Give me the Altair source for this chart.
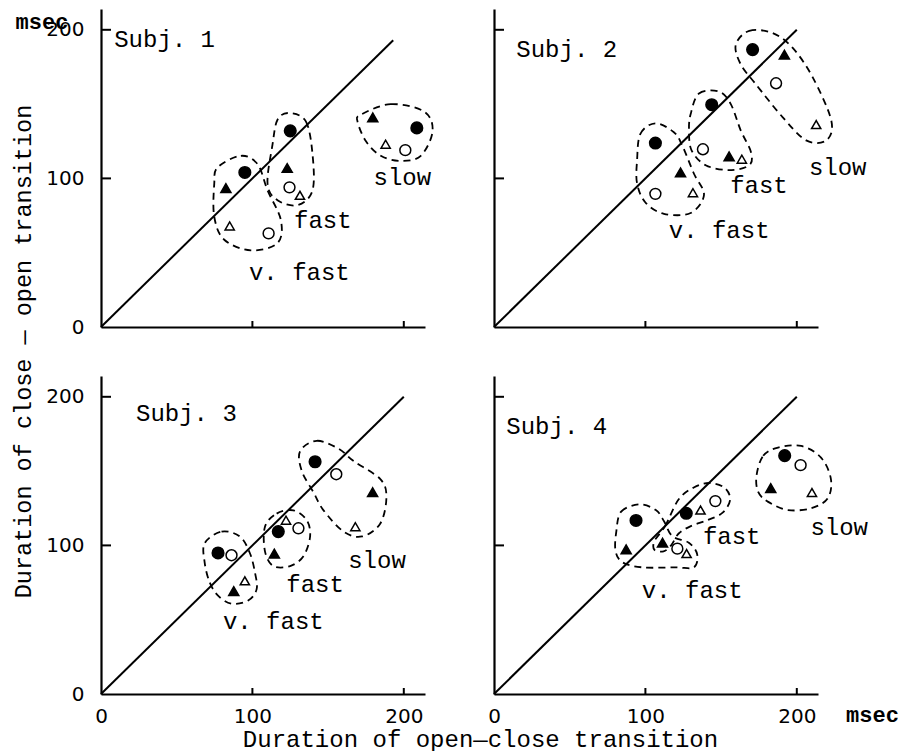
import altair as alt
import pandas as pd

# ---------------- data ----------------
SPEEDS = ["v. fast", "fast", "slow"]
MARKER_TYPES = ["fc", "oc", "ft", "ot"]          # filled circle, open circle, filled triangle, open triangle
MARKER_SHAPES = ["circle", "circle", "triangle-up", "triangle-up"]
MARKER_FILLS = ["black", "white", "black", "white"]
MARKER_SIZES = [135, 85, 60, 60]

AXIS_TICKS = [0, 100, 200]
INNER_TICKS = [100, 200]
DIAG_END = [193, 200, 200, 200]   # end of the y = x line, per subject

# points (subject, speed group, marker, x, y)
pt_subject = [1] * 12 + [2] * 12 + [3] * 12 + [4] * 12
pt_speed = (["v. fast"] * 4 + ["fast"] * 4 + ["slow"] * 4) * 4
pt_marker = [
    "fc", "ft", "ot", "oc", "fc", "ft", "oc", "ot", "ft", "fc", "ot", "oc",
    "fc", "ft", "oc", "ot", "fc", "oc", "ft", "ot", "fc", "ft", "oc", "ot",
    "fc", "oc", "ot", "ft", "fc", "ot", "oc", "ft", "fc", "oc", "ft", "ot",
    "fc", "ft", "oc", "ot", "fc", "ot", "oc", "ft", "fc", "oc", "ft", "ot",
]
pt_x = [
    95, 82.5, 85, 110.7, 125, 123, 124.5, 131.4, 179.5, 208.6, 188, 201,
    106.6, 123.2, 106.6, 131.4, 143.8, 138, 155.3, 163.7, 170.8, 191.8, 186.3, 212.8,
    77.3, 86.2, 95, 87.7, 117.1, 122.2, 130.4, 114.5, 141.4, 155.4, 179.4, 168,
    93.8, 87.3, 121.1, 127.2, 127, 136.4, 146.2, 111.3, 192, 202.5, 182.8, 210,
]
pt_y = [
    104, 93.5, 68, 63, 132, 107, 94, 88.6, 141, 134, 123, 119,
    123.8, 104, 89.6, 90.4, 149.6, 119.6, 114.9, 112.9, 186.7, 183.3, 164, 136.2,
    94.9, 93.4, 76.2, 69.3, 109.3, 117, 111.5, 94.5, 156.3, 147.9, 135.8, 112.6,
    116.8, 97.4, 97.8, 94.5, 121.6, 123.8, 129.8, 101.8, 160.4, 154, 138.6, 135.6,
]

# in-panel labels
label_subject = [1, 1, 1, 1, 2, 2, 2, 2, 3, 3, 3, 3, 4, 4, 4, 4]
label_text = ["Subj. 1", "v. fast", "fast", "slow",
              "Subj. 2", "v. fast", "fast", "slow",
              "Subj. 3", "v. fast", "fast", "slow",
              "Subj. 4", "v. fast", "fast", "slow"]
label_x = [42, 131, 146.5, 199, 48, 148.7, 175, 227, 56.4, 113.8, 141.4, 182.3, 41.4, 130.9, 157, 228]
label_y = [193, 36.5, 71, 100, 186.7, 64.4, 94.9, 106.7, 188.7, 48.6, 73.3, 89.4, 180, 69.5, 105.5, 111.5]

# unit labels
unit_subject = [1, 4]
unit_text = ["msec", "msec"]
unit_x = [-39, 250]
unit_y = [205, -14]

# dashed loops around each speed group (outline vertices, data units)
LOOP_1_VF = [(77, 107.4), (92.4, 115.2), (103.4, 109.6), (110, 91.9), (118.8, 72), (116.6, 56.5),
             (99, 51.6), (81.4, 58.7), (74.8, 74.2), (74.8, 96.3)]
LOOP_1_F = [(124.3, 144), (135.3, 138.4), (139.7, 116.3), (139.7, 91.9), (129.8, 82), (116.6, 85.3),
            (110, 96.3), (113.3, 122.9), (116.6, 139.5)]
LOOP_1_S = [(171.6, 142.9), (191.4, 150), (213.4, 145), (219, 131.8), (211.2, 115.2), (198, 111.8),
            (184.8, 115.2), (174.9, 125.1), (169.4, 138.4)]
LOOP_2_VF = [(94.5, 112.2), (96.7, 130), (106.6, 137.1), (118.8, 131.1), (124.3, 122.2), (132, 103.3),
             (138.7, 88.9), (129.9, 76.7), (112.2, 76.2), (100, 83.8), (94.5, 96.7)]
LOOP_2_F = [(129.9, 143.3), (135.4, 157.1), (148.7, 158.4), (156.4, 150), (163, 132.2), (169.7, 117.8),
            (168.6, 108.9), (155.3, 105.6), (139.8, 108.9), (130.5, 118.9), (128.8, 132.2)]
LOOP_2_S = [(159.7, 190), (168.6, 199.3), (184.1, 197.8), (197.3, 187.8), (210.6, 167.8), (222.8, 138.9),
            (219.5, 125.6), (206.2, 125.6), (190.7, 141.1), (173, 163.3), (163, 176.7)]
LOOP_3_VF = [(68.5, 101.5), (79.6, 109.3), (91.7, 106), (98.3, 94.9), (101.7, 81.7), (102.8, 70.6),
             (97.2, 62.9), (86.2, 60.7), (77.3, 66.2), (71.8, 75.1), (68.5, 88.3)]
LOOP_3_F = [(108.3, 112.6), (116, 121.4), (127.1, 123.6), (135.9, 117), (138.1, 106), (133.7, 92.7),
            (124.9, 86.1), (113.8, 86.1), (108.3, 96)]
LOOP_3_S = [(131.5, 163.4), (142.5, 170.4), (156.9, 165.1), (166.9, 156.7), (184.5, 144.6), (188.5, 132.5),
            (184.5, 114.8), (172.4, 106), (160.2, 109.3), (147, 123.6), (140.3, 135.8), (132.6, 150.1)]
LOOP_4_VF = [(80.8, 109.5), (84, 122.7), (96, 127.6), (106.9, 123.8), (112.4, 116.1), (117.8, 106.2),
             (128.7, 101.8), (134.2, 94), (132, 85.2), (120, 85.2), (98.2, 85.2), (85.1, 88.5), (80.3, 96.2)]
LOOP_4_F = [(106, 103), (113, 113), (122, 131), (132, 139), (142, 142), (152, 139), (156, 131),
            (151, 122), (141, 117), (130, 113), (122, 108), (117, 100), (112, 96), (106, 97)]
LOOP_4_S = [(173.4, 147), (177.8, 160.3), (187.6, 165.8), (202.9, 166.9), (216, 159.1), (222.5, 144.8),
            (220.4, 131.6), (209.4, 125), (194.2, 123.8), (181.1, 129.3), (174.5, 136)]

LOOPS = [
    (1, "v. fast", LOOP_1_VF), (1, "fast", LOOP_1_F), (1, "slow", LOOP_1_S),
    (2, "v. fast", LOOP_2_VF), (2, "fast", LOOP_2_F), (2, "slow", LOOP_2_S),
    (3, "v. fast", LOOP_3_VF), (3, "fast", LOOP_3_F), (3, "slow", LOOP_3_S),
    (4, "v. fast", LOOP_4_VF), (4, "fast", LOOP_4_F), (4, "slow", LOOP_4_S),
]

X_TITLE = "Duration of open\u2014close transition"
Y_TITLE = "Duration of close \u2014 open transition"

# ---------------- tables ----------------
df_pts = pd.DataFrame({"subject": pt_subject, "speed": pt_speed, "marker": pt_marker, "x": pt_x, "y": pt_y})
df_lab = pd.DataFrame({"subject": label_subject, "text": label_text, "x": label_x, "y": label_y})
df_unit = pd.DataFrame({"subject": unit_subject, "text": unit_text, "x": unit_x, "y": unit_y})
loop_rows = []
for subj, spd, verts in LOOPS:
    for i, (vx, vy) in enumerate(verts):
        loop_rows.append({"subject": subj, "speed": spd, "i": i, "x": vx, "y": vy})
df_loops = pd.DataFrame(loop_rows)
df_ticks = pd.DataFrame({"v": INNER_TICKS})

W, H = 324, 318
DOMAIN = [0, 214]


def panel(s, show_x_labels, show_y_labels, with_titles):
    xs = alt.Scale(domain=DOMAIN, nice=False)
    ys = alt.Scale(domain=DOMAIN, nice=False)
    xaxis_kw = dict(values=AXIS_TICKS, labels=show_x_labels, ticks=False, grid=False, labelFlush=False,
                    labelPadding=12)
    yaxis_kw = dict(values=AXIS_TICKS, labels=show_y_labels, ticks=False, grid=False, labelFlush=False,
                    labelPadding=17)
    if with_titles:
        xaxis = alt.Axis(title=X_TITLE, titleX=379, titleY=45, titleAlign="center",
                         titleBaseline="middle", titleFontSize=24, **xaxis_kw)
        yaxis = alt.Axis(title=Y_TITLE, titleX=-78, titleY=-25, titleAngle=270, titleAlign="center",
                         titleBaseline="middle", titleFontSize=23.5, **yaxis_kw)
    else:
        xaxis = alt.Axis(title=None, **xaxis_kw)
        yaxis = alt.Axis(title=None, **yaxis_kw)

    pts = alt.Chart(df_pts[df_pts.subject == s]).mark_point(
        filled=True, stroke="black", strokeWidth=1.5, opacity=1
    ).encode(
        x=alt.X("x:Q", scale=xs, axis=xaxis),
        y=alt.Y("y:Q", scale=ys, axis=yaxis),
        shape=alt.Shape("marker:N", scale=alt.Scale(domain=MARKER_TYPES, range=MARKER_SHAPES), legend=None),
        fill=alt.Fill("marker:N", scale=alt.Scale(domain=MARKER_TYPES, range=MARKER_FILLS), legend=None),
        size=alt.Size("marker:N", scale=alt.Scale(domain=MARKER_TYPES, range=MARKER_SIZES), legend=None),
    )

    diag_df = pd.DataFrame({"x": [0, DIAG_END[s - 1]], "y": [0, DIAG_END[s - 1]]})
    diag = alt.Chart(diag_df).mark_line(color="black", strokeWidth=2).encode(x="x:Q", y="y:Q")

    loops = alt.Chart(df_loops[df_loops.subject == s]).mark_line(
        color="black", strokeWidth=1.8, strokeDash=[7, 5], interpolate="cardinal-closed"
    ).encode(x="x:Q", y="y:Q", detail="speed:N", order="i:Q")

    labels = alt.Chart(df_lab[df_lab.subject == s]).mark_text(
        font="Liberation Mono", fontSize=24, color="black", align="center", baseline="middle"
    ).encode(x="x:Q", y="y:Q", text="text:N")

    layers = [loops, diag, pts, labels]

    units = df_unit[df_unit.subject == s]
    if len(units):
        layers.append(alt.Chart(units).mark_text(
            font="Liberation Mono", fontSize=22, fontWeight="bold", color="black",
            align="center", baseline="middle"
        ).encode(x="x:Q", y="y:Q", text="text:N"))

    yt = alt.Chart(df_ticks).mark_rule(color="black", strokeWidth=2).encode(
        y="v:Q", x=alt.value(0), x2=alt.value(10))
    xt = alt.Chart(df_ticks).mark_rule(color="black", strokeWidth=2).encode(
        x="v:Q", y=alt.value(H), y2=alt.value(H - 6))
    layers += [yt, xt]

    return alt.layer(*layers).properties(width=W, height=H)


p1 = panel(1, False, True, False)
p2 = panel(2, False, False, False)
p3 = panel(3, True, True, True)
p4 = panel(4, True, False, False)

chart = alt.concat(p1, p2, p3, p4, columns=2, spacing={"row": 49, "column": 69}, bounds="flush").properties(
    padding={"left": 2, "top": 1, "right": 2, "bottom": 0},
    background="white",
).configure_view(stroke=None).configure_axis(
    domainColor="black", domainWidth=2.2, labelFont="DejaVu Sans", labelFontSize=20,
    labelColor="black", titleFont="Liberation Mono", titleFontSize=24, titleColor="black",
    titleFontWeight="normal",
)

chart.save("out.html", embed_options={"renderer": "svg", "actions": False})
